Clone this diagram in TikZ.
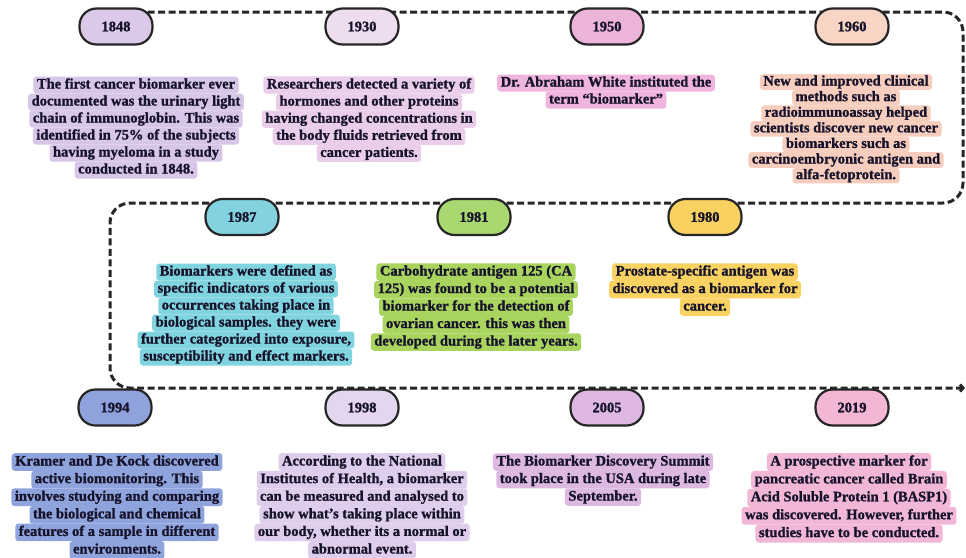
\documentclass[tikz,border=0pt]{standalone}
\usepackage{fontspec}
\setmainfont{Liberation Serif}[BoldFont={Liberation Serif Bold},BoldFeatures={FakeBold=1.2}]
\usetikzlibrary{arrows.meta}
\definecolor{txt}{HTML}{16132A}
\definecolor{pA}{HTML}{DCC9E9}\definecolor{bA}{HTML}{D8C6E8}
\definecolor{pB}{HTML}{EEDCEF}\definecolor{bB}{HTML}{EACEE9}
\definecolor{pC}{HTML}{EDB4DA}\definecolor{bC}{HTML}{EFB5DC}
\definecolor{pD}{HTML}{F9D5C5}\definecolor{bD}{HTML}{F7CDBE}
\definecolor{pE}{HTML}{82D3DF}\definecolor{bE}{HTML}{80D4E0}
\definecolor{pF}{HTML}{AAD870}\definecolor{bF}{HTML}{A9D55F}
\definecolor{pG}{HTML}{F8D160}\definecolor{bG}{HTML}{F9D262}
\definecolor{pH}{HTML}{8FA2DB}\definecolor{bH}{HTML}{8FA3DC}
\definecolor{pI}{HTML}{E5D6EF}\definecolor{bI}{HTML}{DECDEB}
\definecolor{pJ}{HTML}{DEB8E3}\definecolor{bJ}{HTML}{DDB9E2}
\definecolor{pK}{HTML}{F3B6D5}\definecolor{bK}{HTML}{F2B7D7}
\tikzset{
  pill/.style={draw=black!85, line width=2.2pt, rounded corners=17pt,
    minimum width=73pt, minimum height=36pt, inner sep=0pt,
    font=\fontsize{14.5}{16}\selectfont\bfseries, text=txt},
  hl/.style={rounded corners=3pt, inner xsep=3.5pt, text height=10.5pt,
    text depth=3.5pt, font=\fontsize{14.5}{17}\selectfont\bfseries, text=txt},
  timeline/.style={draw=black!85, line width=3pt,
    dash pattern=on 7pt off 3.5pt, rounded corners=20pt}
}
\newcommand\hlblock[6]{%
  \foreach \ln [count=\i] in {#6} {%
    \pgfmathsetmacro\ys{(#5-14)/2}%
    \node[hl, fill=#2, inner ysep=\ys pt] (#1-\i) at (#3, {#4+(\i-1)*#5}) {\ln};}%
}
\begin{document}
\begin{tikzpicture}[x=1pt, y=-1pt]
\fill[white] (0,0) rectangle (966,557);
\useasboundingbox (0,0) rectangle (966,557);
% timeline
\coordinate (tl0) at (116,12);
\coordinate (tl1) at (963,12);
\coordinate (tl2) at (963,203);
\coordinate (tl3) at (110,203);
\coordinate (tl4) at (110,388);
\coordinate (tl5) at (965,388);
\draw[timeline, -{Straight Barb[length=3pt,width=7pt]}]
  (tl0) -- (tl1) -- (tl2) -- (tl3) -- (tl4) -- (tl5);
% pills
\node[pill, fill=pA] (p1848) at (116,26.5) {1848};
\node[pill, fill=pB] (p1930) at (362,26.5) {1930};
\node[pill, fill=pC] (p1950) at (607,26.5) {1950};
\node[pill, fill=pD] (p1960) at (852,26.5) {1960};
\node[pill, fill=pE] (p1987) at (242,217) {1987};
\node[pill, fill=pF] (p1981) at (474,217) {1981};
\node[pill, fill=pG] (p1980) at (705,217) {1980};
\node[pill, fill=pH] (p1994) at (115,407.5) {1994};
\node[pill, fill=pI] (p1998) at (362,407.5) {1998};
\node[pill, fill=pJ] (p2005) at (607,407.5) {2005};
\node[pill, fill=pK] (p2019) at (852,407.5) {2019};
% texts
\hlblock{t1848}{bA}{136}{85}{17}{The first cancer biomarker ever, documented was the urinary light, chain of immunoglobin. This was, identified in 75\% of the subjects, having myeloma in a study, conducted in 1848.}
\hlblock{t1930}{bB}{369}{85}{17.1}{Researchers detected a variety of, hormones and other proteins, having changed concentrations in, the body fluids retrieved from, cancer patients.}
\hlblock{t1950}{bC}{606}{83}{17}{Dr. Abraham White instituted the, term “biomarker”}
\hlblock{t1960}{bD}{846}{82}{15.6}{New and improved clinical, methods such as, radioimmunoassay helped, scientists discover new cancer, biomarkers such as, carcinoembryonic antigen and, alfa-fetoprotein.}
\hlblock{t1987}{bE}{246}{272}{17}{Biomarkers were defined as, specific indicators of various, occurrences taking place in, biological samples. they were, {further categorized into exposure,}, susceptibility and effect markers.}
\hlblock{t1981}{bF}{476}{272}{17.5}{Carbohydrate antigen 125 (CA, 125) was found to be a potential, biomarker for the detection of, ovarian cancer. this was then, developed during the later years.}
\hlblock{t1980}{bG}{705}{272}{17.5}{Prostate-specific antigen was, discovered as a biomarker for, cancer.}
\hlblock{t1994}{bH}{117}{462}{17.6}{Kramer and De Kock discovered, active biomonitoring. This, involves studying and comparing, the biological and chemical, features of a sample in different, environments.}
\hlblock{t1998}{bI}{362}{462}{17.6}{According to the National, {Institutes of Health, a biomarker}, can be measured and analysed to, show what's taking place within, {our body, whether its a normal or}, abnormal event.}
\hlblock{t2005}{bJ}{603}{462}{17.5}{The Biomarker Discovery Summit, took place in the USA during late, September.}
\hlblock{t2019}{bK}{849}{462}{17.9}{A prospective marker for, pancreatic cancer called Brain, Acid Soluble Protein 1 (BASP1), {was discovered. However, further}, studies have to be conducted.}
\end{tikzpicture}
\end{document}
